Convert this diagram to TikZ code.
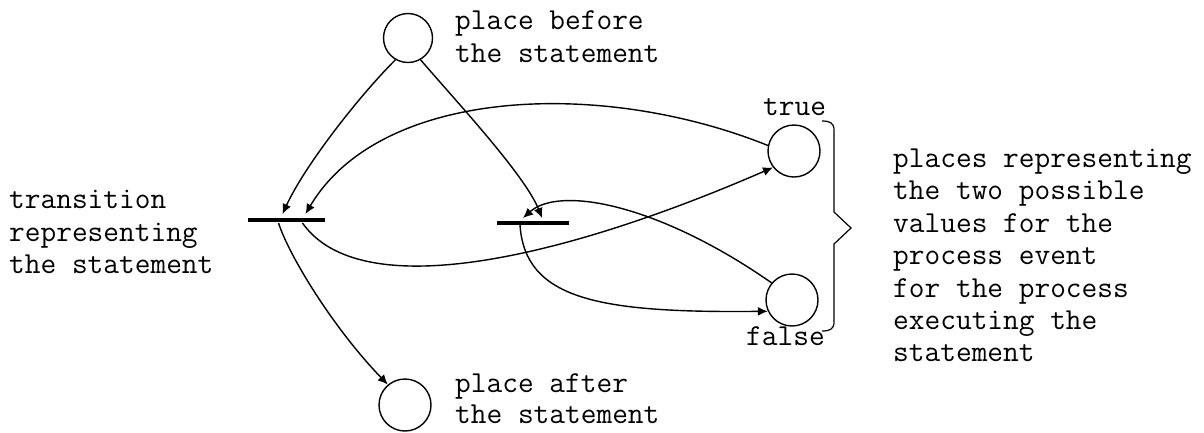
\documentclass[tikz,border=0pt]{standalone}
\usepackage{fontspec}
\usetikzlibrary{arrows.meta,calc}
\begin{document}
\begin{tikzpicture}[x=1pt,y=-1pt,
  place/.style={draw,circle,line width=1.4pt,minimum size=52pt,inner sep=0pt},
  arc/.style={line width=1.4pt,-{Latex[length=10pt,width=9pt]}},
  barline/.style={line width=3.2pt},
  lbl/.style={font=\fontsize{30.5}{32}\selectfont\ttfamily,inner sep=0pt,anchor=base west},
  brace/.style={line width=1.2pt}]
\useasboundingbox (0,0) rectangle (1204,432);
% places
\node[place,minimum size=49pt] (pb) at (408,38) {};
\node[place] (pa) at (405,405) {};
\node[place] (pt) at (794,151) {};
\node[place] (pf) at (792,300) {};
% transitions
\draw[barline] (248,220) coordinate (t1w) -- (325,220) coordinate (t1e);
\draw[barline] (497,223) coordinate (t2w) -- (569,223) coordinate (t2e);
\coordinate (t1) at ($(t1w)!0.5!(t1e)$);
\coordinate (t2) at ($(t2w)!0.5!(t2e)$);
\coordinate (t1a) at ($(t1)+(-4,-6)$);
\coordinate (t1b) at ($(t1)+(19,-6)$);
\coordinate (t1o1) at ($(t1)+(-8,3)$);
\coordinate (t1o2) at ($(t1)+(16,3)$);
\coordinate (t2a) at ($(t2)+(-10,-5)$);
\coordinate (t2b) at ($(t2)+(9,-5)$);
\coordinate (t2o) at ($(t2)+(-13,2)$);
% arcs
\draw[arc] (pb.240) .. controls (360,95) and (305,165) .. (t1a);
\draw[arc] (pb.300) .. controls (455,100) and (525,175) .. (t2b);
\draw[arc] (t1o1) .. controls (290,258) and (335,330) .. (pa.130);
\draw[arc] (pt.168) .. controls (600,78) and (380,88) .. (t1b);
\draw[arc] (t1o2) .. controls (360,305) and (560,260) .. (pt.218);
\draw[arc] (pf.140) .. controls (660,205) and (560,185) .. (t2a);
\draw[arc] (t2o) .. controls (525,300) and (600,313) .. (pf.205);
% brace
\draw[brace] (822,121) .. controls (830,121) and (834,123) .. (834,130)
  -- (834,212) -- (851,228) -- (834,244) -- (834,322)
  .. controls (834,329) and (830,331) .. (822,331);
% labels
\node[lbl] (b1) at (455,29) {place before};
\node[lbl] (b2) at (455,62) {the statement};
\node[lbl] (a1) at (455,392) {place after};
\node[lbl] (a2) at (455,423) {the statement};
\node[lbl] (tr) at (763,115) {true};
\node[lbl] (fa) at (746,345) {false};
\node[lbl] (l1) at (9,208) {transition};
\node[lbl] (l2) at (9,241) {representing};
\node[lbl] (l3) at (9,273) {the statement};
\node[lbl] (r1) at (893,167) {places representing};
\node[lbl] (r2) at (893,199) {the two possible};
\node[lbl] (r3) at (893,232) {values for the};
\node[lbl] (r4) at (893,264) {process event};
\node[lbl] (r5) at (893,297) {for the process};
\node[lbl] (r6) at (893,329) {executing the};
\node[lbl] (r7) at (893,361) {statement};
\end{tikzpicture}
\end{document}
